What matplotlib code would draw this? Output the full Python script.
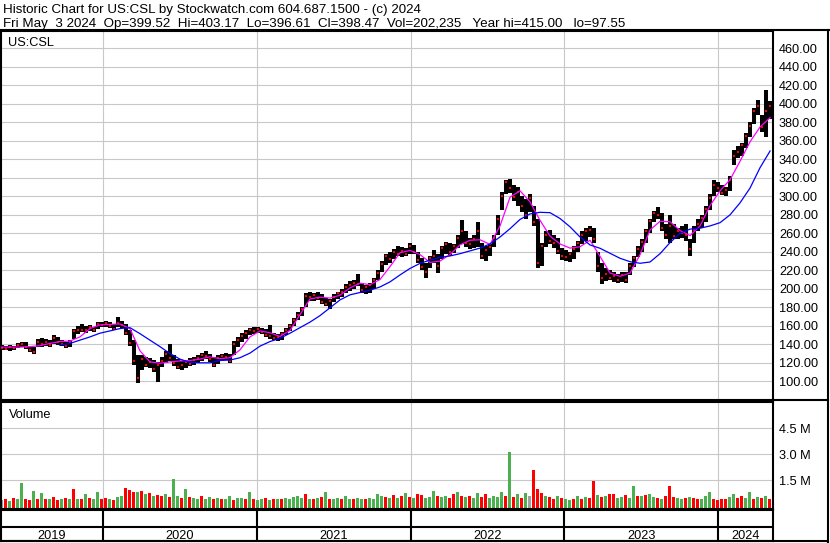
import numpy as np
import matplotlib
matplotlib.use("Agg")
import matplotlib.pyplot as plt
from matplotlib.lines import Line2D

plt.rcParams['font.family'] = ['Liberation Sans', 'DejaVu Sans']

# bars, one bar every ~1.3 weeks (fractional years)
first_bar = 2019.343
last_bar = 2024.336   # Fri May 3 2024

bar_high = [139, 138, 139, 138, 141, 143, 142, 138, 137, 146,
            147, 146, 145, 150, 148, 145, 143, 145, 157, 160,
            162, 160, 161, 159, 164, 164, 165, 164, 162, 170,
            165, 162, 156, 145, 128, 128, 126, 125, 123, 121,
            126, 133, 140, 128, 124, 122, 123, 125, 126, 128,
            131, 133, 129, 126, 128, 130, 131, 129, 144, 148,
            152, 155, 158, 159, 159, 158, 157, 161, 152, 151,
            153, 158, 162, 168, 175, 180, 195, 197, 196, 197,
            194, 190, 189, 194, 197, 200, 205, 208, 210, 216,
            206, 204, 206, 212, 220, 230, 238, 240, 243, 246,
            245, 244, 250, 247, 240, 233, 228, 236, 242, 238,
            246, 251, 249, 248, 258, 274, 262, 255, 258, 272,
            250, 246, 248, 258, 280, 305, 318, 319, 312, 310,
            300, 297, 303, 290, 275, 250, 262, 264, 258, 255,
            244, 242, 240, 246, 252, 262, 266, 268, 266, 240,
            228, 222, 220, 218, 216, 218, 218, 228, 236, 246,
            254, 265, 276, 284, 288, 282, 270, 280, 270, 266,
            268, 270, 254, 268, 275, 280, 290, 302, 318, 316,
            312, 310, 322, 350, 354, 358, 368, 380, 395, 404,
            388, 415, 403]
bar_low = [134, 134, 133, 134, 136, 137, 135, 132, 130, 137,
           137, 138, 137, 140, 139, 138, 136, 137, 146, 151,
           153, 152, 154, 153, 157, 159, 159, 158, 155, 159,
           158, 150, 138, 118, 98, 112, 115, 114, 110, 99,
           116, 120, 122, 117, 113, 112, 114, 117, 118, 120,
           122, 124, 121, 115, 119, 122, 123, 120, 128, 137,
           143, 146, 150, 151, 152, 151, 148, 146, 145, 144,
           145, 150, 154, 160, 166, 171, 180, 187, 187, 188,
           184, 181, 178, 186, 189, 191, 196, 198, 200, 203,
           196, 194, 196, 200, 209, 218, 226, 228, 232, 235,
           234, 235, 238, 238, 228, 220, 212, 222, 228, 217,
           232, 238, 236, 239, 244, 248, 245, 243, 244, 245,
           232, 230, 236, 245, 258, 285, 302, 304, 295, 290,
           283, 275, 283, 268, 222, 225, 245, 248, 244, 238,
           231, 230, 229, 232, 240, 248, 252, 256, 250, 218,
           205, 208, 210, 207, 206, 207, 206, 215, 224, 234,
           240, 250, 260, 272, 276, 262, 254, 250, 254, 254,
           255, 252, 236, 250, 262, 266, 272, 285, 300, 305,
           301, 300, 306, 334, 341, 344, 352, 364, 378, 388,
           370, 364, 384]
bar_close = [136, 135, 137, 136, 139, 140, 137, 134, 132, 143,
             140, 143, 139, 147, 142, 140, 138, 143, 154, 156,
             156, 155, 159, 155, 162, 161, 163, 160, 157, 163,
             161, 152, 141, 122, 104, 124, 118, 121, 113, 118,
             122, 130, 125, 120, 116, 118, 121, 119, 123, 125,
             128, 127, 124, 118, 125, 127, 126, 122, 140, 145,
             149, 152, 156, 154, 157, 153, 150, 149, 147, 148,
             151, 156, 160, 166, 172, 178, 192, 191, 193, 190,
             186, 184, 187, 191, 195, 197, 202, 204, 206, 205,
             199, 202, 204, 210, 217, 227, 235, 232, 240, 238,
             241, 238, 246, 240, 231, 224, 218, 233, 236, 225,
             244, 248, 240, 246, 255, 262, 250, 248, 254, 262,
             236, 242, 245, 255, 276, 300, 315, 309, 299, 305,
             290, 280, 298, 272, 228, 246, 258, 252, 250, 241,
             236, 234, 238, 243, 249, 258, 262, 264, 254, 225,
             212, 216, 212, 214, 209, 215, 210, 225, 233, 243,
             251, 262, 273, 282, 280, 266, 258, 268, 257, 262,
             260, 258, 243, 264, 270, 277, 286, 298, 312, 309,
             304, 307, 318, 344, 348, 355, 365, 376, 392, 398,
             375, 392, 398]

# volume in millions, G = up, R = down, N = unchanged
volume_m = [0.35, 0.45, 0.3, 0.5, 0.4, 1.36, 0.45, 0.35, 0.9, 0.4,
            0.75, 0.45, 0.4, 0.55, 0.35, 0.45, 0.5, 0.4, 0.98, 0.45,
            0.4, 0.7, 0.5, 0.45, 0.8, 0.4, 0.5, 0.45, 0.35, 0.55,
            0.6, 1.04, 0.95, 0.85, 0.8, 0.9, 0.7, 0.75, 0.6, 0.65,
            0.6, 0.7, 0.55, 1.57, 0.6, 0.5, 1.0, 0.55, 0.5, 0.45,
            0.6, 0.4, 0.55, 0.45, 0.5, 0.4, 0.45, 0.6, 0.35, 0.5,
            0.5, 0.4, 0.8, 0.45, 0.35, 0.4, 0.5, 0.35, 0.45, 0.4,
            0.45, 0.5, 0.4, 0.55, 0.6, 0.5, 0.7, 0.45, 0.4, 0.5,
            0.55, 0.85, 0.45, 0.4, 0.5, 0.45, 0.6, 0.4, 0.45, 0.5,
            0.45, 0.4, 0.5, 0.45, 0.7, 0.6, 0.55, 0.5, 0.65, 0.5,
            0.6, 0.75, 0.55, 0.5, 0.7, 0.65, 0.5, 0.55, 0.9, 0.6,
            0.55, 0.6, 0.5, 0.7, 0.85, 0.6, 0.55, 0.6, 0.5, 0.75,
            0.55, 0.7, 0.5, 0.6, 0.55, 0.8, 0.6, 3.15, 0.55, 0.7,
            0.5, 0.75, 0.6, 2.09, 1.0, 0.75, 0.6, 0.55, 0.45, 0.6,
            0.5, 0.4, 0.35, 0.45, 0.6, 0.4, 0.55, 0.5, 1.48, 0.65,
            0.55, 0.6, 0.7, 0.7, 0.5, 0.55, 0.65, 0.5, 1.17, 0.6,
            0.6, 0.65, 0.7, 0.55, 0.5, 0.45, 0.6, 1.17, 0.55, 0.5,
            0.45, 0.5, 0.55, 0.5, 0.45, 0.4, 0.6, 0.8, 0.45, 0.35,
            0.4, 0.45, 0.55, 0.7, 0.5, 0.6, 0.5, 0.85, 0.45, 0.55,
            0.5, 0.6, 0.45]
volume_dir = ("NRGRGGRRGR" "GRGRRGRGRG" "RGRGGRRGRG" "GRRRGRGRGR"
              "RGRGGRGRGG" "RGGRGRGGRG" "GRGRGGRGRG" "RGGGGGRGRG"
              "RGRGGRGGRG" "GRGGGGRGRG" "RGRGRRGGGR" "GGRRGRGRGG"
              "RRGGGGRGRG" "RGNRRRGRRG" "RGGRGRGRRG" "RGRRGGRGGR"
              "GRGGRGRRRG" "GRGRRGGGRR" "RRGGRRGGRG" "RGR")

# moving averages read every ~3 weeks
ma_start = 2019.330
ma_end = 2024.338
ma_fast = [137, 137, 137, 137.5, 138.5, 141, 143, 143.5, 148, 157,
           161, 161.5, 162, 157, 133, 121, 119.5, 121, 122, 122.5,
           124, 126.5, 124.5, 125.5, 134, 148, 154.5, 152.5, 148.5, 155,
           172, 189, 191, 190, 193, 201, 206, 204.5, 210, 224,
           239, 241.5, 237, 228.5, 230, 237, 247.5, 252.5, 253, 248,
           268, 299, 306, 294, 274, 257, 248.5, 244, 245.5, 252.5,
           235, 217, 213.5, 217, 237, 263.6, 273, 272.5, 263, 257.5,
           268, 290, 306, 318, 338, 359, 375, 385]
ma_slow = [np.nan] * 6 + [
           139, 141, 144.5, 148,
           152, 154.5, 157, 158, 151.5, 144.5, 137.5, 130, 124, 120.5,
           120, 120, 122.5, 123, 125.5, 130.5, 138, 143, 146.5, 152,
           158, 164, 171, 179.5, 188, 193.5, 196, 198.5, 202, 207.5,
           215, 222, 227.5, 231, 234, 235.5, 238, 241, 244, 248.5,
           256, 265, 275, 281, 282.7, 282.3, 276, 267, 256, 247.4,
           243.8, 238.4, 233, 229.3, 227.6, 229, 238, 250, 260, 264.5,
           265.5, 268, 271.5, 280, 293, 309, 331, 349]

years = [2019, 2020, 2021, 2022, 2023, 2024]
price_ticks = list(range(100, 461, 20))
vol_ticks = [1.5, 3.0, 4.5]
vol_labels = ['1.5 M', '3.0 M', '4.5 M']

title1 = "Historic Chart for US:CSL by Stockwatch.com 604.687.1500 - (c) 2024"
title2 = ("Fri May  3 2024  Op=399.52  Hi=403.17  Lo=396.61  Cl=398.47  "
          "Vol=202,235   Year hi=415.00   lo=97.55")

W, H = 830, 543
x_lo, x_hi = 2019.337, 2024.357
grid_c = '#c8c8c8'
fs = 9.2

fig = plt.figure(figsize=(W / 100, H / 100), dpi=100)


def box(l, t, r, b):
    return [l / W, 1 - b / H, (r - l) / W, (b - t) / H]


ax = fig.add_axes(box(1, 31, 773, 400))
axv = fig.add_axes(box(1, 402, 773, 509))
axd = fig.add_axes(box(1, 510, 773, 541))

t_bar = np.linspace(first_bar, last_bar, len(bar_high))
t_ma = np.linspace(ma_start, ma_end, len(ma_fast))

for a in (ax, axv, axd):
    a.set_xlim(x_lo, x_hi)
    a.set_xticks([])
    for s in a.spines.values():
        s.set_linewidth(1.5)

# price panel
for y in price_ticks:
    ax.axhline(y, color=grid_c, lw=0.8, zorder=0)
for yr in years[1:]:
    ax.axvline(yr, color=grid_c, lw=0.8, zorder=0)
    axv.axvline(yr, color=grid_c, lw=0.8, zorder=0)
    axd.axvline(yr, color='black', lw=1.5)

ax.vlines(t_bar, bar_low, bar_high, color='black', lw=2.9, zorder=2)
ax.scatter(t_bar, bar_close, s=3, marker='s', color='red', lw=0, zorder=3)
ax.plot(t_ma, ma_fast, color='#ff00ff', lw=0.9, zorder=4)
ax.plot(t_ma, ma_slow, color='#0000ff', lw=0.9, zorder=4)

ax.set_ylim(79.8, 478.7)
ax.yaxis.tick_right()
ax.set_yticks(price_ticks)
ax.set_yticklabels([f'{p:.2f}' for p in price_ticks])
ax.tick_params(axis='y', length=0, pad=4.3, labelsize=fs)

# volume panel
v_bottom = -0.156
for y in vol_ticks:
    axv.axhline(y, color=grid_c, lw=0.8, zorder=0)
vcols = {'G': '#4cb050', 'R': '#ff0000', 'N': '#a0a0a0'}
axv.bar(t_bar, np.array(volume_m) - v_bottom, bottom=v_bottom, width=0.019,
        color=[vcols[c] for c in volume_dir], lw=0, zorder=2)
axv.set_ylim(v_bottom, 6.02)
axv.yaxis.tick_right()
axv.set_yticks(vol_ticks)
axv.set_yticklabels(vol_labels)
axv.tick_params(axis='y', length=0, pad=4.3, labelsize=fs)

# date strip
axd.set_ylim(0, 1)
axd.set_yticks([])
axd.axhline(0.45, color='black', lw=1.5)
edges = [x_lo] + years[1:] + [x_hi]
for i, yr in enumerate(years):
    axd.text((edges[i] + edges[i + 1]) / 2, 0.07, str(yr), ha='center',
             va='baseline', fontsize=fs)

# frame and texts
fig.add_artist(Line2D([0, 1], [1 - 30 / H, 1 - 30 / H], color='black', lw=1.5))
fig.add_artist(Line2D([828 / W, 828 / W], [1 - 30 / H, 1 - 542 / H], color='black', lw=1.5))
fig.add_artist(Line2D([0, 828 / W], [1 - 541 / H, 1 - 541 / H], color='black', lw=1.5))
fig.add_artist(Line2D([773 / W, 828 / W], [1 - 400 / H, 1 - 400 / H], color='black', lw=1.5))

fig.text(3 / W, 1 - 13.5 / H, title1, fontsize=9.6, va='baseline')
fig.text(3 / W, 1 - 26.5 / H, title2, fontsize=9.6, va='baseline')
fig.text(8 / W, 1 - 46 / H, 'US:CSL', fontsize=fs, va='baseline')
fig.text(9 / W, 1 - 417.5 / H, 'Volume', fontsize=fs, va='baseline')

fig.savefig('out.png', dpi=100)
